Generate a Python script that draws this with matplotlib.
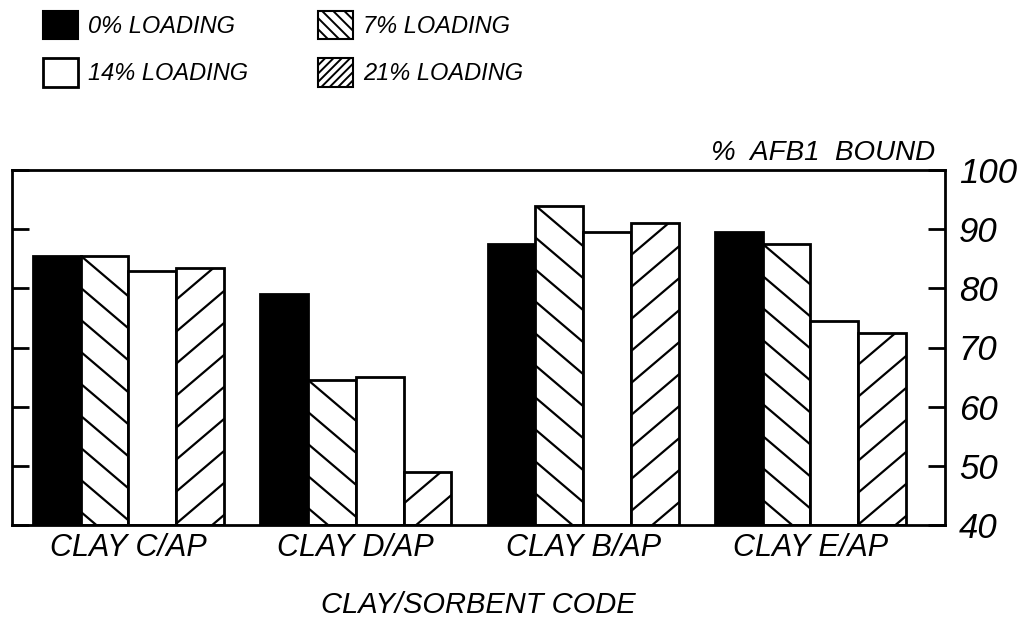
import numpy as np
import matplotlib
matplotlib.use("Agg")
import matplotlib.pyplot as plt
from matplotlib.patches import Patch
from matplotlib.lines import Line2D
from matplotlib.transforms import IdentityTransform

plt.rcParams['font.family'] = ['Liberation Sans', 'DejaVu Sans']
plt.rcParams['font.style'] = 'italic'
plt.rcParams['hatch.linewidth'] = 1.4

# data
categories = ["CLAY C/AP", "CLAY D/AP", "CLAY B/AP", "CLAY E/AP"]
loading_0 = [85.5, 79.0, 87.5, 89.5]
loading_7 = [85.5, 64.5, 94.0, 87.5]
loading_14 = [83.0, 65.0, 89.5, 74.5]
loading_21 = [83.5, 49.0, 91.0, 72.5]
series_labels = ["0% LOADING", "7% LOADING", "14% LOADING", "21% LOADING"]
y_ticks = [40, 50, 60, 70, 80, 90, 100]

W, H = 1028, 627
fig = plt.figure(figsize=(W / 100, H / 100), dpi=100)
ax = fig.add_axes([12 / W, 1 - 525 / H, (945 - 12) / W, (525 - 170) / H])

x = np.arange(len(categories))
width = 0.21
ax.set_xlim(-0.5125, 3.592)
ax.set_ylim(40, 100)

series = [loading_0, loading_7, loading_14, loading_21]
faces = ["black", "white", "white", "white"]
hatch_dir = [None, -1, None, 1]  # -1 = "\\", 1 = "/"

bar_groups = []
for j, vals in enumerate(series):
    bars = ax.bar(x + (j - 1.5) * width, np.array(vals) - 40, width, bottom=40,
                  color=faces[j], edgecolor="black", linewidth=2, zorder=2)
    bar_groups.append(bars)


def hatch_bar(rect, direction, spacing=32.0, slope=0.85):
    # sparse diagonal lines drawn in pixel space, clipped to the bar
    (x0, y0), (x1, y1) = ax.transData.transform(
        [(rect.get_x(), rect.get_y()),
         (rect.get_x() + rect.get_width(), rect.get_y() + rect.get_height())])
    w = x1 - x0
    c = y1
    stop = y0 - slope * w - spacing if direction > 0 else y0 - spacing
    while c > stop:
        ln = Line2D([x0, x1], [c, c + direction * slope * w], color="black",
                    lw=1.6, transform=IdentityTransform(), zorder=3)
        ln.set_clip_path(rect)
        fig.add_artist(ln)
        c -= spacing


for j, bars in enumerate(bar_groups):
    if hatch_dir[j] is None:
        continue
    for rect in bars:
        hatch_bar(rect, hatch_dir[j])

# axes styling
for sp in ax.spines.values():
    sp.set_linewidth(2)
ax.set_yticks(y_ticks)
ax.tick_params(axis="y", direction="in", left=True, right=True,
               labelleft=False, labelright=True, length=12, width=2,
               pad=10, labelsize=25)
ax.set_xticks(x)
ax.set_xticklabels(categories, fontsize=22)
ax.tick_params(axis="x", length=0, pad=6)
ax.set_xlabel("CLAY/SORBENT CODE", fontsize=21, labelpad=20)
ax.text(0.989, 1.01, "%  AFB1  BOUND", transform=ax.transAxes,
        ha="right", va="bottom", fontsize=20)

# legend in two columns
h0 = Patch(facecolor="black", edgecolor="black", linewidth=1.5)
h7 = Patch(facecolor="white", edgecolor="black", hatch="\\\\\\", linewidth=1.5)
h14 = Patch(facecolor="white", edgecolor="black", linewidth=2)
h21 = Patch(facecolor="white", edgecolor="black", hatch="////", linewidth=1.5)
leg_kw = dict(loc="upper left", frameon=False, fontsize=17, borderpad=0,
              borderaxespad=0, handlelength=1.48, handleheight=1.48,
              handletextpad=0.42, labelspacing=0.8)
fig.legend([h0, h14], [series_labels[0], series_labels[2]],
           bbox_to_anchor=(43 / W, 1 - 11 / H), **leg_kw)
fig.legend([h7, h21], [series_labels[1], series_labels[3]],
           bbox_to_anchor=(318 / W, 1 - 11 / H), **leg_kw)

fig.savefig("out.png", dpi=100)
